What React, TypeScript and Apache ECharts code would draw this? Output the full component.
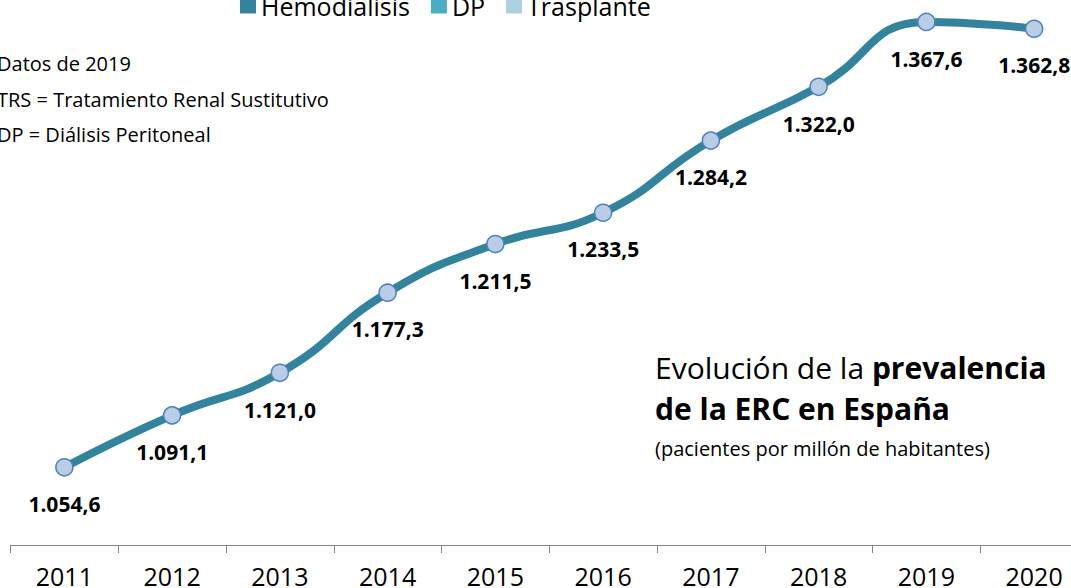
import React, { useEffect, useRef } from "react";
import * as echarts from "echarts";

const years = ["2011", "2012", "2013", "2014", "2015", "2016", "2017", "2018", "2019", "2020"];
const prevalence = [1054.6, 1091.1, 1121.0, 1177.3, 1211.5, 1233.5, 1284.2, 1322.0, 1367.6, 1362.8];
const legendNames = ["Hemodialisis", "DP", "Trasplante"];
const legendColors = ["#31849b", "#4bacc6", "#a9d1df"];
const notes = ["Datos de 2019", "TRS = Tratamiento Renal Sustitutivo", "DP = Diálisis Peritoneal"];

const FONT = "'Open Sans', 'Noto Sans', sans-serif";
// the chart canvas is slightly larger than the window and shifted, so that
// parts of it fall outside the visible frame as in the reference
const OX = 10;
const OY = 20;

function fmt(v: number): string {
  const [i, d] = v.toFixed(1).split(".");
  const intWithDots = i.replace(/\B(?=(\d{3})+(?!\d))/g, ".");
  return intWithDots + "," + d;
}

export default function App() {
  const ref = useRef<HTMLDivElement>(null);
  useEffect(() => {
    if (!ref.current) return;
    const chart = echarts.init(ref.current, null, { renderer: "svg" });
    const option: any = {
      animation: false,
      backgroundColor: "#ffffff",
      textStyle: { fontFamily: FONT },
      grid: { left: 10.5 + OX, right: 0, top: OY, bottom: 43, containLabel: false },
      legend: {
        data: legendNames,
        left: 240 + OX,
        top: OY - 7,
        padding: 0,
        icon: "rect",
        itemWidth: 16,
        itemHeight: 16,
        itemGap: 21,
        textStyle: { fontSize: 25, color: "#000", fontFamily: FONT },
        selectedMode: false,
      },
      xAxis: {
        type: "category",
        data: years,
        boundaryGap: true,
        axisLine: { show: true, lineStyle: { color: "#868686", width: 1 } },
        axisTick: { show: true, length: 8, lineStyle: { color: "#868686" } },
        axisLabel: { color: "#000", fontSize: 25, margin: 18, fontFamily: FONT },
      },
      yAxis: {
        type: "value",
        min: 1000,
        max: 1383,
        show: false,
        splitLine: { show: false },
      },
      series: [
        ...legendNames.map((n, i) => ({
          name: n,
          type: "bar",
          data: [],
          itemStyle: { color: legendColors[i] },
        })),
        {
          name: "Prevalencia",
          type: "line",
          data: prevalence,
          smooth: 0.5,
          lineStyle: { color: "#31849b", width: 8 },
          symbol: "circle",
          symbolSize: 17,
          itemStyle: { color: "#b9cde5", borderColor: "#4f81bd", borderWidth: 1.5 },
          label: {
            show: true,
            position: "bottom",
            distance: 17,
            fontSize: 21,
            fontWeight: "bold",
            color: "#000",
            fontFamily: FONT,
            formatter: (p: any) => fmt(p.value),
          },
          z: 3,
        },
      ],
      graphic: [
        ...notes.map((t, i) => ({
          type: "text",
          left: OX - 3,
          top: OY + 53.5 + i * 35.5,
          style: { text: t, fontSize: 20, fill: "#000", fontFamily: FONT },
        })),
        {
          type: "text",
          left: 655 + OX,
          top: OY + 352,
          style: {
            text: "{n|Evolución de la }{b|prevalencia}",
            rich: {
              n: { fontSize: 30, fontFamily: FONT, fill: "#000" },
              b: { fontSize: 30, fontFamily: FONT, fontWeight: "bold", fill: "#000" },
            },
          },
        },
        {
          type: "text",
          left: 655 + OX,
          top: OY + 393.5,
          style: { text: "de la ERC en España", fontSize: 30, fontWeight: "bold", fill: "#000", fontFamily: FONT },
        },
        {
          type: "text",
          left: 655 + OX,
          top: OY + 438.5,
          style: { text: "(pacientes por millón de habitantes)", fontSize: 20, fill: "#000", fontFamily: FONT },
        },
      ],
    };
    chart.setOption(option);
    return () => chart.dispose();
  }, []);
  return (
    <div style={{ position: "fixed", left: 0, top: 0, width: 1071, height: 588, overflow: "hidden" }}>
      <div
        ref={ref}
        style={{ position: "absolute", left: -OX, top: -OY, width: 1071 + 17 + OX, height: 588 + OY }}
      />
    </div>
  );
}
